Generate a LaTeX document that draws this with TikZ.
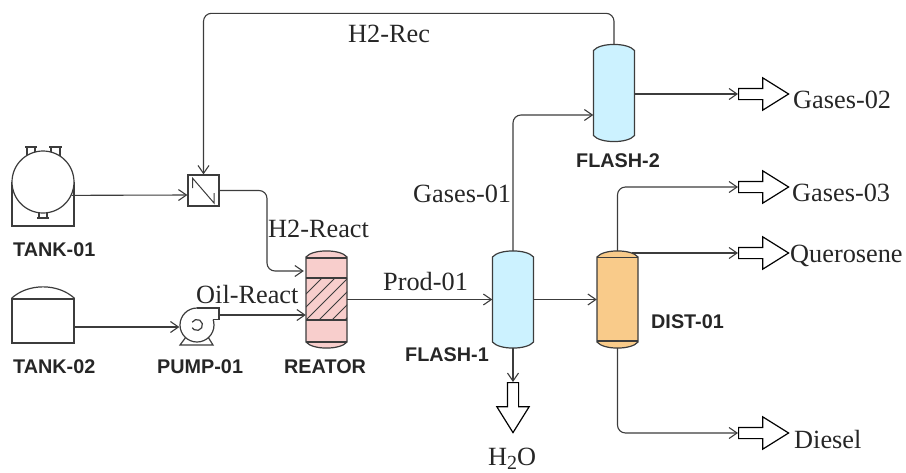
\documentclass[tikz,border=0pt]{standalone}
\usepackage{fontspec}
\setmainfont{Liberation Serif}
\setsansfont{Liberation Sans}
\usetikzlibrary{arrows.meta,shapes.arrows}
\definecolor{linegray}{HTML}{3C3C3C}
\definecolor{textgray}{HTML}{262626}
\definecolor{reactfill}{HTML}{F8CECC}
\definecolor{flashfill}{HTML}{CCF2FF}
\definecolor{distfill}{HTML}{F9CB8A}
\tikzset{
	>={Straight Barb[length=8pt,width=11pt]},
	equip/.style={draw=linegray,line width=1.2pt},
	flow/.style={->,draw=linegray,line width=1.1pt,rounded corners=8pt},
	stream/.style={font=\fontsize{26.3}{30}\selectfont,text=textgray,anchor=base west,inner sep=0pt},
	tag/.style={font=\sffamily\bfseries\fontsize{19.8}{22}\selectfont,text=textgray,anchor=base west,inner sep=0pt},
	vesselbox/.style={minimum width=41pt,minimum height=97pt,inner sep=0pt},
	bigarrow/.style={single arrow,draw=black,line width=1.2pt,fill=white,anchor=tail,inner xsep=0pt,inner ysep=5pt,
		minimum height=50pt,single arrow head extend=10.5pt,
		single arrow tip angle=64,single arrow head indent=0pt},
}
\newcommand{\vessel}[4]{
	\draw[equip,fill=#4] ({#2-20.5},{#3-42.5}) .. controls ({#2-14},{#3-50.6}) and ({#2+14},{#3-50.6}) .. ({#2+20.5},{#3-42.5})
		-- ({#2+20.5},{#3+42.5}) .. controls ({#2+14},{#3+50.6}) and ({#2-14},{#3+50.6}) .. ({#2-20.5},{#3+42.5}) -- cycle;
	\node[vesselbox] (#1) at (#2,#3) {};
}
\begin{document}
\begin{tikzpicture}[x=1pt,y=-1pt]
	\useasboundingbox (0,0) rectangle (906,472);

	% tanks
	\draw[equip] (12,182) -- (12,226) -- (74,226) -- (74,182);
	\draw[equip] (25,147) -- (37,147) (27,147) -- (27,156) (35,147) -- (35,153);
	\draw[equip] (49,147) -- (62,147) (51,147) -- (51,153) (60,147) -- (60,156);
	\draw[equip] (37,218) -- (49,218) (39,212) -- (39,218) (47,212) -- (47,218);
	\node[circle,equip,fill=white,minimum size=62pt,inner sep=0pt] (tank1) at (43,182) {};
	\node[rectangle,equip,minimum width=62pt,minimum height=44pt,inner sep=0pt] (tank2) at (43,321) {};
	\draw[equip] (tank2.north west) .. controls (28,283) and (58,283) .. (tank2.north east);

	% pump
	\draw[equip] (186,337) -- (180,345) -- (213,345) -- (208,337);
	\node[circle,equip,fill=white,minimum size=34pt,inner sep=0pt] (pump) at (197,325) {};
	\fill[white] (197,308) -- (219,308) -- (219,319.5) -- (213,319.5) -- (197,325) -- cycle;
	\draw[equip] (197,308) -- (219,308) -- (219,319.5) -- (213,319.5);
	\draw[equip] (192.2,322.2) arc[start angle=150,end angle=-150,radius=5.5pt];
	\coordinate (pumpout) at (219,315);

	% exchanger
	\node[rectangle,equip,minimum size=31pt,inner sep=0pt] (hx) at (203.5,190.5) {};
	\draw[equip,line width=1pt] (192.7,188) -- (192.7,178.3) -- (214,203) -- (214,193);

	% reactor
	\vessel{reactor}{326.5}{299.5}{reactfill}
	\begin{scope}
		\clip (306,278) rectangle (347,320);
		\foreach \i in {0,13,...,91}
			\draw[equip,line width=1pt] ({280+\i},320) -- ({280+\i+42},278);
	\end{scope}
	\draw[equip] (306,258) -- (347,258) (306,278) -- (347,278) (306,320) -- (347,320) (306,342) -- (347,342);

	% columns
	\vessel{flash1}{513}{299.5}{flashfill}
	\vessel{flash2}{614}{93}{flashfill}
	\vessel{dist}{617.5}{299.5}{distfill}
	\draw[equip] (597,257.5) -- (638,257.5) (597,341) -- (638,341);

	% outlets
	\node[bigarrow] (outg2) at (738,94) {};
	\node[bigarrow] (outg3) at (738,187) {};
	\node[bigarrow] (outq) at (738,253) {};
	\node[bigarrow] (outd) at (738,433) {};
	\node[bigarrow,rotate=-90] (outw) at (513,382) {};

	\draw[flow] (tank1.-25) -- ([yshift=-4.5pt]hx.west);
	\draw[flow] ([yshift=-6pt]tank2.east) -- ([yshift=-2pt]pump.west);
	\draw[flow] (pumpout) -- ([yshift=-15.5pt]reactor.west);
	\draw[flow,shorten >=2pt] (hx.east) -| (267,231) |- ([yshift=28.5pt]reactor.west);
	\draw[flow] (flash2.north) -- ++(0,-31) -| (hx.north);
	\draw[flow] (reactor.east) -- (flash1.west);
	\draw[flow] (flash1.east) -- (dist.west);
	\draw[flow] (flash1.north) |- ([yshift=-22pt]flash2.west);
	\draw[flow] (flash1.south) -- (outw.tail);
	\draw[flow] ([yshift=-1pt]flash2.east) -- (outg2.tail);
	\draw[flow] (dist.north) |- (outg3.tail);
	\draw[flow] ([xshift=-6pt,yshift=46.5pt]dist.east) -- (outq.tail);
	\draw[flow] (dist.south) |- (outd.tail);

	% stream names
	\node[stream] (recname) at (348,42) {H2-Rec};
	\node[stream] (reactname) at (268,237) {H2-React};
	\node[stream] (oilname) at (196,303) {Oil-React};
	\node[stream] (prodname) at (383,290) {Prod-01};
	\node[stream] (gas1name) at (413,202) {Gases-01};
	\node[stream] (gas2name) at (793,108) {Gases-02};
	\node[stream] (gas3name) at (792,201) {Gases-03};
	\node[stream] (quername) at (790,262) {Querosene};
	\node[stream] (dieselname) at (794,448) {Diesel};
	\node[stream] (watername) at (488,465) {H\raisebox{-4pt}{\fontsize{20}{20}\selectfont 2}O};

	% equipment names
	\node[tag] (tank1name) at (13,256) {TANK-01};
	\node[tag] (tank2name) at (13,373) {TANK-02};
	\node[tag] (pumpname) at (157,373) {PUMP-01};
	\node[tag] (reactorname) at (284,373) {REATOR};
	\node[tag] (flash1name) at (405,361) {FLASH-1};
	\node[tag] (flash2name) at (576,167) {FLASH-2};
	\node[tag] (distname) at (651,328) {DIST-01};
\end{tikzpicture}
\end{document}
